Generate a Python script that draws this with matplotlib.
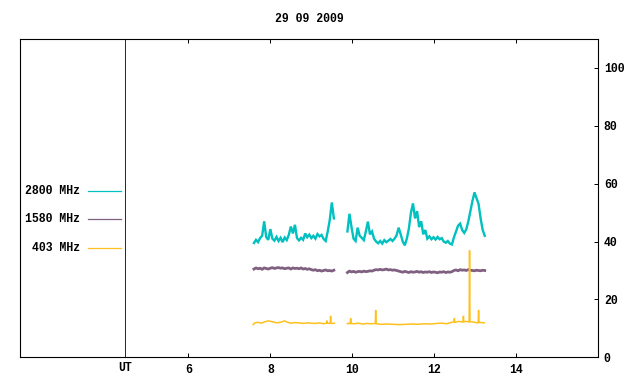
import matplotlib

matplotlib.use("Agg")
import matplotlib.pyplot as plt
import numpy as np

plt.rcParams["font.family"] = ["Liberation Mono", "DejaVu Sans Mono"]
plt.rcParams["font.weight"] = "bold"

TITLE = "29 09 2009"
SERIES = ["2800 MHz", "1580 MHz", "403 MHz"]
COLORS = ["#00c0c0", "#7f6080", "#ffc020"]
X_TICKS = [6, 8, 10, 12, 14]
Y_TICKS = [0, 20, 40, 60, 80, 100]
UT_HOUR = 4.45

# sampling grids (UT hours) of the two recording stretches
t_a = 7.60 + 0.05 * np.arange(40)
t_b = 9.88 + 0.05 * np.arange(68)

f2800_a = [
    39.5, 40.6, 39.8, 41.2, 42.0, 47.0, 41.5, 40.6, 44.3, 41.0,
    40.3, 41.6, 40.2, 41.3, 39.8, 41.4, 40.5, 42.3, 45.2, 42.8,
    45.8, 41.2, 40.4, 41.3, 40.6, 42.8, 41.5, 42.4, 41.2, 42.0,
    41.0, 42.6, 41.8, 42.3, 40.9, 40.2, 43.5, 47.5, 53.5, 48.0,
]
f2800_b = [
    43.5, 49.6, 45.0, 41.0, 40.2, 44.8, 42.0, 41.3, 40.5, 43.5,
    46.9, 42.5, 43.5, 41.0, 40.0, 39.4, 40.2, 39.3, 40.5, 39.8,
    40.3, 40.9, 40.2, 41.0, 42.2, 44.8, 42.5, 40.0, 38.7, 41.0,
    44.5, 50.0, 53.2, 48.0, 50.5, 45.0, 47.0, 42.5, 44.0, 41.0,
    41.8, 40.8, 41.5, 40.7, 41.6, 40.8, 41.2, 40.0, 39.6, 40.2,
    39.3, 39.0, 41.5, 43.5, 45.5, 46.2, 44.0, 43.0, 44.2, 47.0,
    50.5, 54.0, 57.0, 55.0, 53.0, 48.0, 44.0, 42.0,
]

f1580_a = [
    30.5, 30.9, 30.6, 30.8, 30.4, 30.9, 30.7, 30.5, 30.8, 31.0,
    30.7, 30.9, 31.0, 30.8, 30.9, 30.6, 30.8, 30.9, 30.5, 30.9,
    30.7, 30.8, 30.6, 30.9, 30.5, 30.7, 30.4, 30.6, 30.3, 30.1,
    30.3, 29.9, 30.1, 29.8, 30.0, 30.2, 29.9, 30.0, 29.8, 30.1,
]
f1580_b = [
    29.3, 29.8, 29.5, 29.7, 29.4, 29.6, 29.7, 29.5, 29.8, 29.6,
    29.7, 29.9, 29.8, 30.1, 30.3, 30.2, 30.4, 30.2, 30.3, 30.5,
    30.2, 30.3, 30.1, 30.2, 30.0, 29.8, 29.6, 29.4, 29.7, 29.5,
    29.3, 29.6, 29.4, 29.5, 29.7, 29.4, 29.6, 29.3, 29.5, 29.4,
    29.6, 29.3, 29.5, 29.4, 29.2, 29.5, 29.4, 29.6, 29.3, 29.5,
    29.4, 29.6, 30.0, 30.2, 29.9, 30.3, 30.1, 30.2, 30.0, 30.3,
    30.1, 30.0, 29.9, 30.1, 30.0, 29.9, 30.1, 30.0,
]

# 403 MHz: flat background with narrow bursts
t403_a = [
    7.58, 7.62, 7.70, 7.78, 7.85, 7.95, 8.05, 8.15, 8.25, 8.35,
    8.40, 8.50, 8.60, 8.70, 8.80, 8.90, 9.00, 9.10, 9.20, 9.30,
    9.37, 9.38, 9.39, 9.46, 9.47, 9.48, 9.52, 9.56,
]
f403_a = [
    11.3, 11.9, 12.1, 11.8, 12.2, 12.6, 12.3, 11.9, 12.1, 12.6,
    12.2, 11.8, 12.0, 11.9, 11.7, 11.9, 11.8, 11.7, 11.9, 11.6,
    11.8, 12.6, 11.8, 11.7, 14.2, 11.8, 11.7, 11.8,
]
t403_b = [
    9.88, 9.92, 9.95, 9.96, 9.97, 10.05, 10.15, 10.25, 10.35, 10.45,
    10.56, 10.57, 10.58, 10.70, 10.85, 11.00, 11.15, 11.30, 11.45, 11.60,
    11.75, 11.90, 12.05, 12.20, 12.30, 12.40, 12.48, 12.49, 12.50, 12.60,
    12.70, 12.71, 12.72, 12.80, 12.85, 12.86, 12.87, 12.95, 13.02, 13.07,
    13.08, 13.09, 13.15, 13.22,
]
f403_b = [
    11.6, 11.8, 11.6, 13.4, 11.7, 11.6, 11.8, 11.5, 11.7, 11.6,
    11.7, 16.2, 11.6, 11.4, 11.5, 11.4, 11.3, 11.4, 11.5, 11.4,
    11.6, 11.5, 11.7, 11.8, 11.6, 12.0, 12.3, 13.4, 12.1, 12.4,
    12.2, 14.2, 12.3, 12.4, 12.2, 36.9, 12.3, 12.2, 12.0, 11.9,
    16.2, 12.1, 12.0, 11.9,
]

fig = plt.figure(figsize=(6.4, 3.84), dpi=100)
ax = fig.add_axes([0.0317, 0.0695, 0.9031, 0.8289])

lw = 0.9  # key samples and thin traces
for t, v in ((t_a, f2800_a), (t_b, f2800_b)):
    ax.plot(t, v, color=COLORS[0], lw=1.7, solid_joinstyle="miter")
for t, v in ((t_a, f1580_a), (t_b, f1580_b)):
    ax.plot(t, v, color=COLORS[1], lw=2.0)
for t, v in ((t403_a, f403_a), (t403_b, f403_b)):
    ax.plot(t, v, color=COLORS[2], lw=1.1)

ax.axvline(UT_HOUR, color="#800000", lw=0.7)

ax.set_xlim(1.9, 16.0)
ax.set_ylim(0, 110)
ax.set_xticks(X_TICKS)
ax.set_yticks(Y_TICKS)
ax.tick_params(axis="x", direction="in", top=True, bottom=True, length=3, width=0.7,
               pad=5, labelsize=8.3)
ax.tick_params(axis="y", direction="in", left=False, right=True, labelleft=False,
               labelright=True, length=3, width=0.7, pad=4, labelsize=8.3)
for s in ax.spines.values():
    s.set_linewidth(0.8)

ax.text(UT_HOUR, -0.035, "UT", transform=ax.get_xaxis_transform(), ha="center",
        va="center", fontsize=8.3, fontweight="bold")

# gnuplot-style key: right-aligned text, line sample to its right
for i, (name, c) in enumerate(zip(SERIES, COLORS)):
    yk = 0.5225 - i * 0.0895
    ax.text(0.1033, yk, name, transform=ax.transAxes, ha="right", va="center",
            fontsize=8.3, fontweight="bold")
    ax.plot([0.1171, 0.1742], [yk, yk], transform=ax.transAxes, color=c, lw=lw)

fig.text(0.4828, 0.9505, TITLE, ha="center", va="center", fontsize=8.3,
         fontweight="bold")

fig.savefig("out.png", dpi=100)
